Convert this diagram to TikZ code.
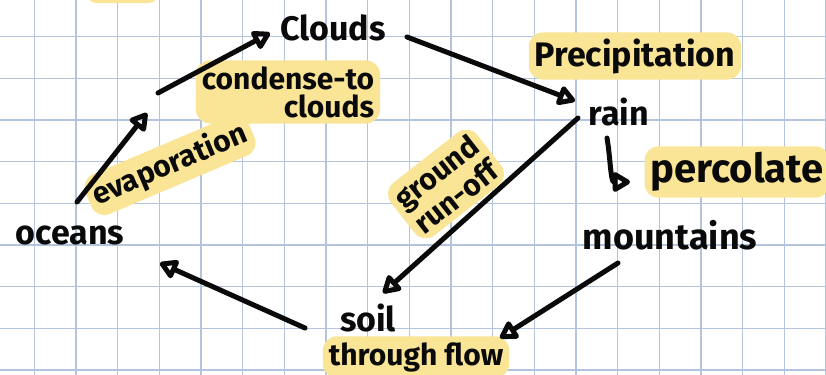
\documentclass[tikz,border=0pt]{standalone}
\usepackage{fontspec}
\setmainfont{Fira Sans}
\usepackage{xcolor}
\definecolor{GridBlue}{RGB}{178,196,222}
\definecolor{MarkerYellow}{RGB}{250,229,150}
\definecolor{InkBlack}{RGB}{10,10,10}
\usepackage{tikz}
\usetikzlibrary{arrows.meta, positioning, calc}
\tikzset{
  % Squared paper
  gridline/.style={draw=GridBlue, line width=0.75pt},
  % Place in the cycle
  place/.style={
    text=InkBlack, inner sep=0pt,
    font=\fontsize{17}{18}\selectfont\bfseries
  },
  % Highlighted process label
  process/.style={
    text=InkBlack, fill=MarkerYellow,
    rounded corners=7pt, inner sep=3pt, align=center,
    font=\fontsize{15}{14}\selectfont\bfseries
  },
  % Pen arrow
  arr/.style={-{Triangle[open, round, length=10pt, width=11pt]},
    line width=2.5pt, line cap=round, InkBlack},
}

\begin{document}
\begin{tikzpicture}[x=0.5pt, y=-0.5pt]

  \useasboundingbox (0,0) rectangle (826,375);
  \fill[white] (0,0) rectangle (826,375);

  %% Paper
  \foreach \gx in {0,...,19}
    \draw[gridline] ({34.3+41.67*\gx},0) -- ({34.3+41.67*\gx},375);
  \foreach \gy in {0,...,8}
    \draw[gridline] (0,{36.7+41.67*\gy}) -- (826,{36.7+41.67*\gy});
  \fill[MarkerYellow, rounded corners=4pt] (88,-12) rectangle (157,3);

  %% Places
  \node[place] (clouds) at (333,28) {Clouds};
  \node[place] (rain) at (619,112) {rain};
  \node[place, font=\fontsize{18}{19}\selectfont\bfseries]
    (mountains) at (670,235) {mountains};
  \node[place] (soil) at (368,318) {soil};
  \node[place] (oceans) at (70,235) {oceans};

  %% Processes
  \node[process, font=\fontsize{17}{18}\selectfont\bfseries]
    (precip) at (635,56) {Precipitation};
  \node[process, font=\fontsize{20}{21}\selectfont\bfseries]
    (percolate) at (737,172) {percolate};
  \node[process, align=right] (condense) at (288,92) {condense-to\\clouds};
  \node[process, rotate=23] (evap) at (170,165) {evaporation};
  \node[process, rotate=38] (runoff) at (446,184) {ground\\run-off};
  \node[process] (through) at (416,357) {through flow};

  %% Arrows
  \coordinate (vapour) at (152,103);
  \draw[arr] ($(oceans)+(7,-33)$) -- ($(vapour)+(-5,10)$);
  \draw[arr] ($(vapour)+(6,-10)$) -- ($(clouds)+(-63,5)$);
  \draw[arr] ($(clouds)+(74,9)$) -- ($(rain)+(-44,-11)$);
  \draw[arr] ($(rain)+(-12,26)$) to[out=-80, in=180] ($(rain)+(11,70)$);
  \draw[arr] ($(rain)+(-41,6)$) -- ($(soil)+(15,-25)$);
  \draw[arr] ($(mountains)+(-52,28)$) -- ($(through)+(84,-19)$);
  \draw[arr] ($(soil)+(-63,10)$) -- ($(oceans)+(90,28)$);

\end{tikzpicture}
\end{document}
